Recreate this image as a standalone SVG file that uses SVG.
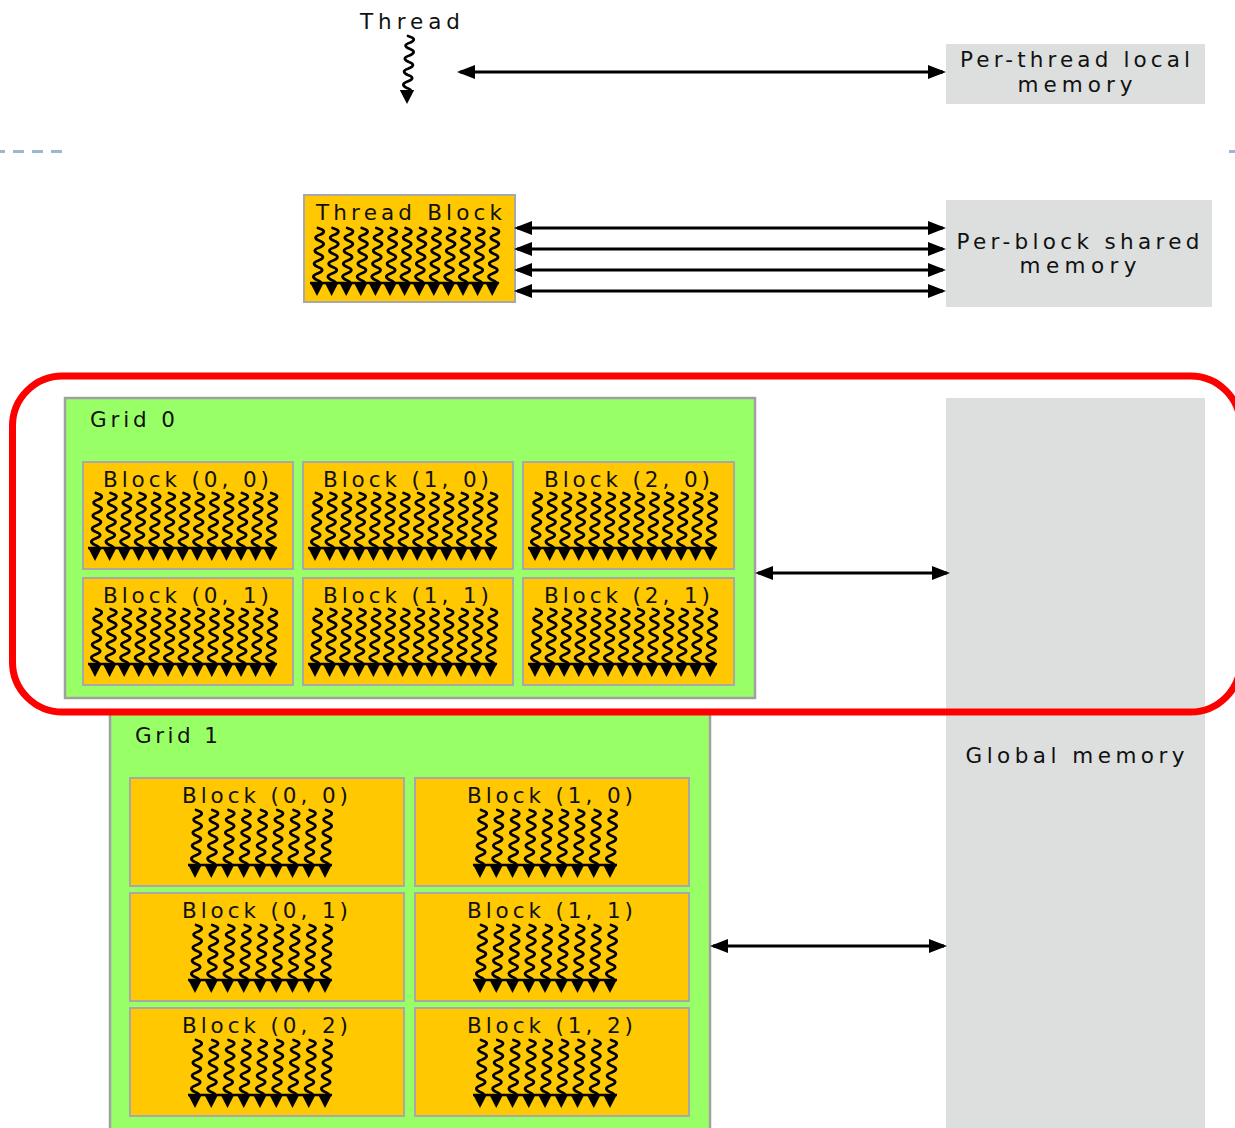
<svg xmlns="http://www.w3.org/2000/svg" xmlns:xlink="http://www.w3.org/1999/xlink" width="1235" height="1128" viewBox="0 0 1235 1128">
<style>
  .lbl { font-family: "DejaVu Sans", Verdana, sans-serif; font-size: 21.5px; fill: #111; }
  .mid { text-anchor: middle; }
  .blk { fill: #ffc800; stroke: #a8a8a8; stroke-width: 2; }
  .grid { fill: #99ff66; stroke: #a0a0a0; stroke-width: 2.5; }
  .mem { fill: #dddede; }
  .conn { stroke: #000; stroke-width: 3; fill: none; marker-start: url(#ah); marker-end: url(#ah); }
  .sq { fill: none; stroke: #000; stroke-width: 2.8; stroke-linejoin: round; stroke-linecap: round; }
</style>
<defs>
  <marker id="ah" markerUnits="userSpaceOnUse" viewBox="0 0 18 14" markerWidth="18" markerHeight="14" refX="15" refY="7" orient="auto-start-reverse">
    <path d="M0,0 L18,7 L0,14 z" fill="#000"/>
  </marker>
  <g id="t">
    <path class="sq" d="M1,0 Q11,3 3.5,6.5 Q-6,9.5 3,13 Q10.5,16 2.5,19.5 Q-6.5,22.5 2,26 Q10,29 1.5,32.5 Q-7,35.5 1,39 Q9.5,42 0.5,45.5 Q-7.5,48.5 0,52 Q8,55 0,57"/>
    <polygon points="-7.2,54 7.2,54 0,68" fill="#000"/>
  </g>
  <g id="row13">
    <use xlink:href="#t" x="0"/><use xlink:href="#t" x="14.6"/><use xlink:href="#t" x="29.2"/><use xlink:href="#t" x="43.8"/>
    <use xlink:href="#t" x="58.4"/><use xlink:href="#t" x="73"/><use xlink:href="#t" x="87.6"/><use xlink:href="#t" x="102.2"/>
    <use xlink:href="#t" x="116.8"/><use xlink:href="#t" x="131.4"/><use xlink:href="#t" x="146"/><use xlink:href="#t" x="160.6"/>
    <use xlink:href="#t" x="175.2"/>
    <line x1="-7" y1="55" x2="182" y2="55" stroke="#000" stroke-width="2.5"/>
  </g>
  <g id="row9">
    <use xlink:href="#t" x="0"/><use xlink:href="#t" x="16.25"/><use xlink:href="#t" x="32.5"/><use xlink:href="#t" x="48.75"/>
    <use xlink:href="#t" x="65"/><use xlink:href="#t" x="81.25"/><use xlink:href="#t" x="97.5"/><use xlink:href="#t" x="113.75"/>
    <use xlink:href="#t" x="130"/>
    <line x1="-7" y1="55" x2="137" y2="55" stroke="#000" stroke-width="2.5"/>
  </g>
</defs>

<rect width="1235" height="1128" fill="#fff"/>

<g id="separator">
  <line x1="0" y1="151.5" x2="62" y2="151.5" stroke="#9db7d2" stroke-width="3" stroke-dasharray="11 8" stroke-dashoffset="6"/>
  <line x1="1229" y1="151.5" x2="1235" y2="151.5" stroke="#9db7d2" stroke-width="3"/>
</g>

<g id="thread">
  <text class="lbl mid" x="410" y="29" textLength="100">Thread</text>
  <use xlink:href="#t" x="407" y="36"/>
</g>

<g id="per-thread-memory">
  <rect class="mem" x="946" y="44" width="259" height="60"/>
  <text class="lbl mid" x="1075" y="67" textLength="230">Per-thread local</text>
  <text class="lbl mid" x="1075" y="92" textLength="115">memory</text>
</g>

<g id="thread-block">
  <rect class="blk" x="304" y="195" width="211" height="107"/>
  <text class="lbl mid" x="409" y="220" textLength="186">Thread Block</text>
  <use xlink:href="#row13" x="317" y="228"/>
</g>

<g id="per-block-memory">
  <rect class="mem" x="946" y="200" width="266" height="107"/>
  <text class="lbl mid" x="1078" y="249" textLength="243">Per-block shared</text>
  <text class="lbl mid" x="1078" y="273" textLength="117">memory</text>
</g>

<g id="global-memory">
  <rect class="mem" x="946" y="398" width="259" height="740"/>
  <text class="lbl mid" x="1075" y="763" textLength="219">Global memory</text>
</g>

<g id="grid1">
  <rect class="grid" x="110" y="713" width="600" height="430"/>
  <text class="lbl" x="135" y="743" textLength="83">Grid 1</text>
  <g id="g1-b00"><rect class="blk" x="130" y="778" width="274" height="108"/><text class="lbl mid" x="265" y="803" textLength="166">Block (0, 0)</text><use xlink:href="#row9" x="195" y="810"/></g>
  <g id="g1-b10"><rect class="blk" x="415" y="778" width="274" height="108"/><text class="lbl mid" x="550" y="803" textLength="166">Block (1, 0)</text><use xlink:href="#row9" x="480" y="810"/></g>
  <g id="g1-b01"><rect class="blk" x="130" y="893" width="274" height="108"/><text class="lbl mid" x="265" y="918" textLength="166">Block (0, 1)</text><use xlink:href="#row9" x="195" y="925"/></g>
  <g id="g1-b11"><rect class="blk" x="415" y="893" width="274" height="108"/><text class="lbl mid" x="550" y="918" textLength="166">Block (1, 1)</text><use xlink:href="#row9" x="480" y="925"/></g>
  <g id="g1-b02"><rect class="blk" x="130" y="1008" width="274" height="108"/><text class="lbl mid" x="265" y="1033" textLength="166">Block (0, 2)</text><use xlink:href="#row9" x="195" y="1040"/></g>
  <g id="g1-b12"><rect class="blk" x="415" y="1008" width="274" height="108"/><text class="lbl mid" x="550" y="1033" textLength="166">Block (1, 2)</text><use xlink:href="#row9" x="480" y="1040"/></g>
</g>

<g id="grid0">
  <rect class="grid" x="65" y="398" width="690" height="300"/>
  <text class="lbl" x="90" y="427" textLength="85">Grid 0</text>
  <g id="g0-b00"><rect class="blk" x="83" y="462" width="210" height="107"/><text class="lbl mid" x="186" y="487" textLength="166">Block (0, 0)</text><use xlink:href="#row13" x="95" y="493"/></g>
  <g id="g0-b10"><rect class="blk" x="303" y="462" width="210" height="107"/><text class="lbl mid" x="406" y="487" textLength="166">Block (1, 0)</text><use xlink:href="#row13" x="315" y="493"/></g>
  <g id="g0-b20"><rect class="blk" x="523" y="462" width="211" height="107"/><text class="lbl mid" x="627" y="487" textLength="166">Block (2, 0)</text><use xlink:href="#row13" x="535" y="493"/></g>
  <g id="g0-b01"><rect class="blk" x="83" y="578" width="210" height="107"/><text class="lbl mid" x="186" y="603" textLength="166">Block (0, 1)</text><use xlink:href="#row13" x="95" y="609"/></g>
  <g id="g0-b11"><rect class="blk" x="303" y="578" width="210" height="107"/><text class="lbl mid" x="406" y="603" textLength="166">Block (1, 1)</text><use xlink:href="#row13" x="315" y="609"/></g>
  <g id="g0-b21"><rect class="blk" x="523" y="578" width="211" height="107"/><text class="lbl mid" x="627" y="603" textLength="166">Block (2, 1)</text><use xlink:href="#row13" x="535" y="609"/></g>
</g>

<g id="connectors">
  <line class="conn" x1="460" y1="72" x2="943" y2="72"/>
  <line class="conn" x1="517" y1="228" x2="943" y2="228"/>
  <line class="conn" x1="517" y1="249" x2="943" y2="249"/>
  <line class="conn" x1="517" y1="270" x2="943" y2="270"/>
  <line class="conn" x1="517" y1="291" x2="943" y2="291"/>
  <line class="conn" x1="758" y1="573" x2="947" y2="573"/>
  <line class="conn" x1="713" y1="946" x2="944" y2="946"/>
</g>

<g id="highlight">
  <rect x="12.5" y="376" width="1228" height="336" rx="50" ry="50" fill="none" stroke="#ff0000" stroke-width="7"/>
</g>
</svg>
